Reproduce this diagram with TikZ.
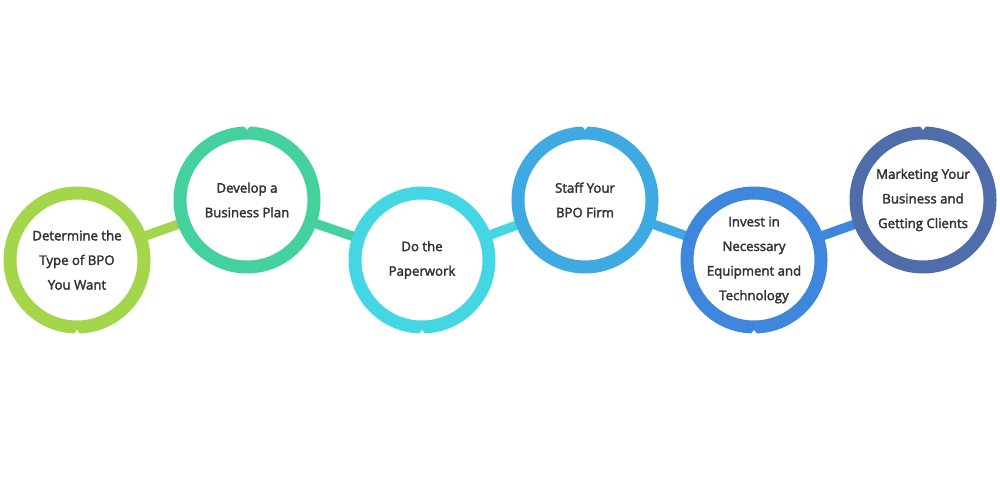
\documentclass[tikz,border=0pt]{standalone}
\usepackage{fontspec}
\setmainfont{Open Sans}
\newfontfamily\semib{Open Sans}[FakeBold=2.4]
\definecolor{cA}{HTML}{A4D64C}
\definecolor{cB}{HTML}{45D19E}
\definecolor{cC}{HTML}{44D6E2}
\definecolor{cD}{HTML}{3FA9E2}
\definecolor{cE}{HTML}{3E87DD}
\definecolor{cF}{HTML}{4F6DAB}
\definecolor{txt}{HTML}{333333}
\begin{document}
\begin{tikzpicture}[x=1pt,y=-1pt,
  ring/.style={circle, draw=#1, line width=13pt, fill=white, minimum size=134pt, inner sep=0pt,
    align=center, text=txt, font=\semib\fontsize{13.2}{24.6}\selectfont},
  link/.style={line width=9.5pt, draw=#1},
  notch/.style={fill=white, draw=none}]
\useasboundingbox (0,0) rectangle (1000,481);
\coordinate (p1) at (77,260);
\coordinate (p2) at (247,200);
\coordinate (p3) at (422,260);
\coordinate (p4) at (585,200);
\coordinate (p5) at (754,260);
\coordinate (p6) at (923,200);
\draw[link=cA] (p1) -- (p2);
\draw[link=cB] (p2) -- (p3);
\draw[link=cC] (p3) -- (p4);
\draw[link=cD] (p4) -- (p5);
\draw[link=cE] (p5) -- (p6);
\node[ring=cA] (n1) at (p1) {Determine the\\Type of BPO\\You Want};
\node[ring=cB] (n2) at (p2) {Develop a\\Business Plan};
\node[ring=cC] (n3) at (p3) {Do the\\Paperwork};
\node[ring=cD] (n4) at (p4) {Staff Your\\BPO Firm};
\node[ring=cE] (n5) at (p5) {Invest in\\Necessary\\Equipment and\\Technology};
\node[ring=cF] (n6) at (p6) {Marketing Your\\Business and\\Getting Clients};
\foreach \n in {n2,n4,n6}{
  \fill[notch] ([xshift=-3pt,yshift=0.5pt]\n.north) -- ([yshift=-3.5pt]\n.north) -- ([xshift=3pt,yshift=0.5pt]\n.north) -- cycle;
}
\foreach \n in {n1,n3,n5}{
  \fill[notch] ([xshift=-3pt,yshift=-0.5pt]\n.south) -- ([yshift=3.5pt]\n.south) -- ([xshift=3pt,yshift=-0.5pt]\n.south) -- cycle;
}
\end{tikzpicture}
\end{document}
